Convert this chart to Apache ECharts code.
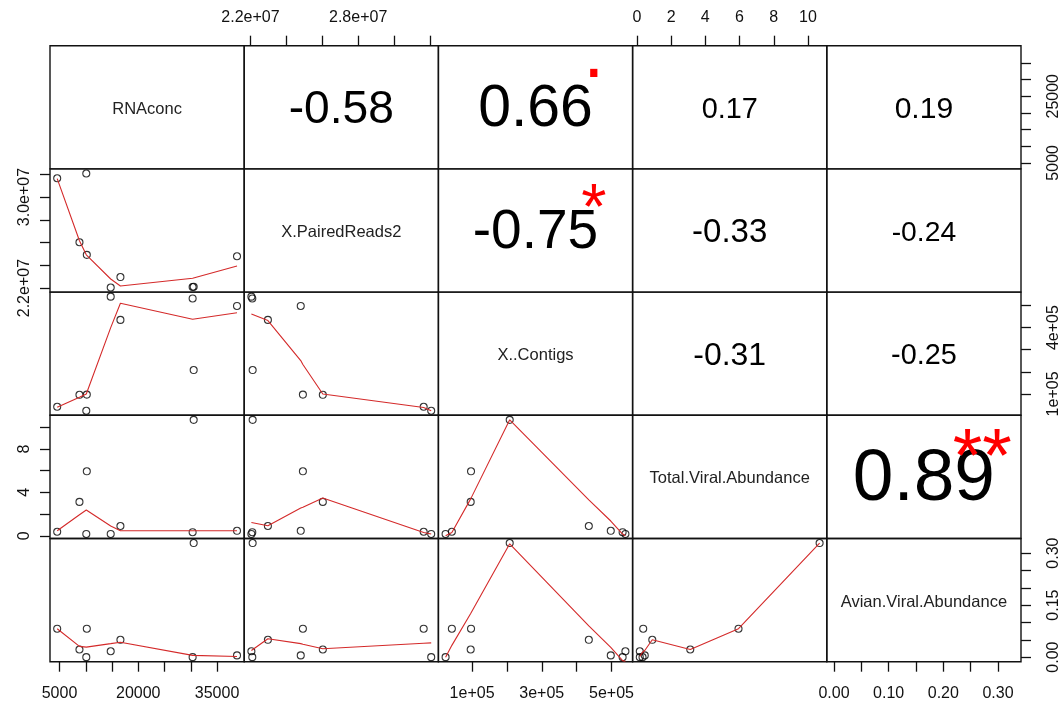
<!DOCTYPE html>
<html><head><meta charset="utf-8">
<script src="https://cdn.jsdelivr.net/npm/echarts@6/dist/echarts.min.js"></script>
<style>html,body{margin:0;padding:0;background:#fff}#c{width:1063px;height:706px}</style>
</head><body><div id="c"></div>
<script>
// ---------------- data (observations A..I) ----------------
const varNames = ['RNAconc', 'X.PairedReads2', 'X..Contigs', 'Total.Viral.Abundance', 'Avian.Viral.Abundance'];
const RNAconc      = [4560, 10100, 8800, 10200, 16600, 14750, 30350, 30550, 38800];
const PairedReads2 = [3.165e7, 3.207e7, 2.603e7, 2.492e7, 2.297e7, 2.205e7, 2.21e7, 2.212e7, 2.48e7];
const Contigs      = [42000, 24000, 96000, 97000, 435000, 540000, 532000, 208000, 498000];
const TotalViral   = [0.37, 0.17, 3.12, 5.94, 0.9, 0.17, 0.33, 10.68, 0.46];
const AvianViral   = [0.082, 0.0, 0.022, 0.082, 0.050, 0.017, 0.0, 0.329, 0.005];

// smoothed (red) curve values read at each observation's x, per lower panel
const smooth_PR_vs_RNA      = [3.162e7, 2.492e7, 2.616e7, 2.492e7, 2.218e7, 2.28e7, 2.286e7, 2.286e7, 2.395e7];
const smooth_Contig_vs_RNA  = [39300, 100000, 85500, 100000, 510000, 400000, 438000, 438000, 467000];
const smooth_TVA_vs_RNA     = [0.46, 2.37, 1.94, 2.37, 0.46, 0.9, 0.46, 0.46, 0.46];
const smooth_Avian_vs_RNA   = [0.082, 0.029, 0.031, 0.029, 0.043, 0.039, 0.005, 0.005, 0.002];
const smooth_Contig_vs_PR   = [39000, 24000, 100000, 233000, 432000, 462000, 462000, 462000, 251000];
const smooth_TVA_vs_PR      = [0.30, 0.16, 3.48, 2.62, 0.92, 1.23, 1.23, 1.23, 2.55];
const smooth_Avian_vs_PR    = [0.040, 0.041, 0.024, 0.037, 0.053, 0.019, 0.019, 0.019, 0.039];
const smooth_TVA_vs_Contig  = [0.30, 0.0, 3.4, 3.4, 3.3, 0.0, 0.16, 10.68, 1.36];
const smooth_Avian_vs_Contig= [0.034, 0.0, 0.126, 0.126, 0.090, -0.012, -0.01, 0.327, 0.028];
const smooth_Avian_vs_TVA   = [0.014, 0.002, 0.022, 0.082, 0.05, 0.002, 0.014, 0.329, 0.019];

// correlation texts for upper panels in order (0,1),(0,2),(0,3),(0,4),(1,2),(1,3),(1,4),(2,3),(2,4),(3,4)
const corrText   = ['-0.58', '0.66', '0.17', '0.19', '-0.75', '-0.33', '-0.24', '-0.31', '-0.25', '0.89'];
const corrSignif = ['', '.', '', '', '*', '', '', '', '', '**'];

// ticks
const ticksRNA    = [5000, 10000, 15000, 20000, 25000, 30000, 35000];
const ticksPR     = [2.2e7, 2.4e7, 2.6e7, 2.8e7, 3.0e7, 3.2e7];
const ticksContig = [1e5, 2e5, 3e5, 4e5, 5e5];
const ticksTVA    = [0, 2, 4, 6, 8, 10];
const ticksAvian  = [0, 0.05, 0.10, 0.15, 0.20, 0.25, 0.30];
// labelled ticks on horizontal axes
const xLabRNA = [5000, 20000, 35000];       const xTxtRNA = ['5000', '20000', '35000'];
const xLabPR = [2.2e7, 2.8e7];              const xTxtPR = ['2.2e+07', '2.8e+07'];
const xLabContig = [1e5, 3e5, 5e5];         const xTxtContig = ['1e+05', '3e+05', '5e+05'];
const xLabTVA = [0, 2, 4, 6, 8, 10];        const xTxtTVA = ['0', '2', '4', '6', '8', '10'];
const xLabAvian = [0, 0.1, 0.2, 0.3];       const xTxtAvian = ['0.00', '0.10', '0.20', '0.30'];
// labelled ticks on vertical axes
const yLabRNA = [5000, 25000];              const yTxtRNA = ['5000', '25000'];
const yLabPR = [2.2e7, 3.0e7];              const yTxtPR = ['2.2e+07', '3.0e+07'];
const yLabContig = [1e5, 4e5];              const yTxtContig = ['1e+05', '4e+05'];
const yLabTVA = [0, 4, 8];                  const yTxtTVA = ['0', '4', '8'];
const yLabAvian = [0, 0.15, 0.3];           const yTxtAvian = ['0.00', '0.15', '0.30'];

// ---------------- build ----------------
const vars = [RNAconc, PairedReads2, Contigs, TotalViral, AvianViral];
const ticks = [ticksRNA, ticksPR, ticksContig, ticksTVA, ticksAvian];
const xLab = [[xLabRNA, xTxtRNA], [xLabPR, xTxtPR], [xLabContig, xTxtContig], [xLabTVA, xTxtTVA], [xLabAvian, xTxtAvian]];
const yLab = [[yLabRNA, yTxtRNA], [yLabPR, yTxtPR], [yLabContig, yTxtContig], [yLabTVA, yTxtTVA], [yLabAvian, yTxtAvian]];
const smooth = {
  '1_0': smooth_PR_vs_RNA, '2_0': smooth_Contig_vs_RNA, '3_0': smooth_TVA_vs_RNA, '4_0': smooth_Avian_vs_RNA,
  '2_1': smooth_Contig_vs_PR, '3_1': smooth_TVA_vs_PR, '4_1': smooth_Avian_vs_PR,
  '3_2': smooth_TVA_vs_Contig, '4_2': smooth_Avian_vs_Contig, '4_3': smooth_Avian_vs_TVA
};

const FONT = "'Liberation Sans', Arial, sans-serif";
const L = 50, T = 45.7, PW = 194.2, PH = 123.2, N = 5;

function ext(a) {
  const mn = Math.min(...a), mx = Math.max(...a), r = mx - mn;
  return [mn - 0.04 * r, mx + 0.04 * r];
}
const ranges = vars.map(ext);
function fmt(lab) {
  return function (v) {
    let best = 0, bd = Infinity;
    lab[0].forEach((x, k) => { const d = Math.abs(x - v); if (d < bd) { bd = d; best = k; } });
    return lab[1][best];
  };
}

const grids = [], xAxes = [], yAxes = [], series = [], graphics = [];
for (let i = 0; i < N; i++) {
  for (let j = 0; j < N; j++) {
    const k = i * N + j;
    grids.push({ left: L + j * PW, top: T + i * PH, width: PW, height: PH, show: true,
      borderColor: '#111', borderWidth: 1.4, backgroundColor: 'transparent' });
    const showTop = (i === 0 && j % 2 === 1), showBottom = (i === N - 1 && j % 2 === 0);
    const showX = showTop || showBottom;
    xAxes.push({
      type: 'value', gridIndex: k, min: ranges[j][0], max: ranges[j][1],
      position: showTop ? 'top' : 'bottom',
      axisLine: { show: false, onZero: false }, splitLine: { show: false },
      axisTick: { show: showX, inside: false, length: 10, customValues: ticks[j], lineStyle: { color: '#111', width: 1.3 } },
      axisLabel: { show: showX, customValues: xLab[j][0], formatter: fmt(xLab[j]), margin: showTop ? 20 : 24,
        fontSize: 16, color: '#111', fontFamily: FONT }
    });
    const showLeft = (j === 0 && i % 2 === 1), showRight = (j === N - 1 && i % 2 === 0);
    const showY = showLeft || showRight;
    yAxes.push({
      type: 'value', gridIndex: k, min: ranges[i][0], max: ranges[i][1],
      position: showLeft ? 'left' : 'right',
      axisLine: { show: false, onZero: false }, splitLine: { show: false },
      axisTick: { show: showY, inside: false, length: 10, customValues: ticks[i], lineStyle: { color: '#111', width: 1.3 } },
      axisLabel: { show: showY, customValues: yLab[i][0], formatter: fmt(yLab[i]), rotate: 90, margin: showLeft ? 17 : 25,
        fontSize: 16, color: '#111', fontFamily: FONT }
    });
    if (i > j) {
      const xs = vars[j], ys = vars[i], sm = smooth[i + '_' + j];
      series.push({ type: 'scatter', xAxisIndex: k, yAxisIndex: k, symbol: 'circle', symbolSize: 7,
        itemStyle: { color: 'rgba(0,0,0,0)', borderColor: '#000', borderWidth: 1.1 },
        data: xs.map((x, n) => [x, ys[n]]), z: 2, silent: true });
      const order = xs.map((x, n) => n).sort((a, b) => xs[a] - xs[b]);
      series.push({ type: 'line', xAxisIndex: k, yAxisIndex: k, showSymbol: false, symbol: 'none',
        lineStyle: { color: '#d42a2a', width: 1.1 }, data: order.map(n => [xs[n], sm[n]]), z: 3, silent: true });
    }
  }
}

// texts
const ctx = document.createElement('canvas').getContext('2d');
function emw(t) { ctx.font = '100px ' + FONT; return ctx.measureText(t).width / 100; }
function addText(x, y, text, fs, color) {
  graphics.push({ type: 'text', x: x, y: y, silent: true, z: 10,
    style: { text: text, fontSize: fs, fontFamily: FONT, fill: color,
      align: 'center', verticalAlign: 'middle', textAlign: 'center', textVerticalAlign: 'middle' } });
}
for (let i = 0; i < N; i++) {
  addText(L + i * PW + PW / 2, T + i * PH + PH / 2 + 2, varNames[i], 16.5, '#222');
}
let c = 0;
for (let i = 0; i < N; i++) {
  for (let j = i + 1; j < N; j++) {
    const t = corrText[c], s = corrSignif[c]; c++;
    const w = emw(t);
    const fsNum = 0.8 * PW * (Math.abs(parseFloat(t)) + 0.3) / 1.3 / w;
    addText(L + j * PW + PW / 2, T + i * PH + PH / 2 + 2.5, t, fsNum, '#000');
    if (s) {
      const fsS = 0.8 * PW / w * 0.95;
      const off = s.charAt(0) === '.' ? -0.225 : 0.23;
      addText(L + j * PW + 0.8 * PW, T + i * PH + 0.2 * PH + 3 + off * fsS, s, fsS, '#ff0000');
    }
  }
}

const chart = echarts.init(document.getElementById('c'), null, { renderer: 'canvas' });
chart.setOption({ animation: false, backgroundColor: '#fff', grid: grids, xAxis: xAxes, yAxis: yAxes,
  series: series, graphic: { elements: graphics } });
</script></body></html>
